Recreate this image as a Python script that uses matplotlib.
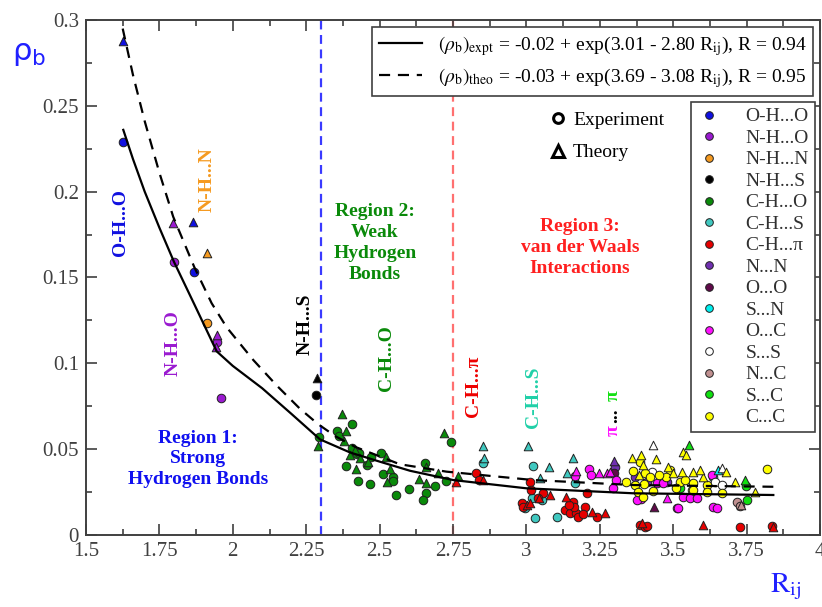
import numpy as np
import matplotlib
matplotlib.use("Agg")
import matplotlib.pyplot as plt
from matplotlib.lines import Line2D
from matplotlib.ticker import MultipleLocator, FuncFormatter

plt.rcParams['font.family'] = ['Liberation Serif', 'DejaVu Serif']
plt.rcParams['mathtext.fontset'] = 'stix'

# fitted curves (R_ij, rho_b)
fit_expt_x = [1.627, 1.66, 1.70, 1.75, 1.80, 1.87, 1.945, 2.0, 2.1, 2.2, 2.297, 2.399, 2.501, 2.604, 2.751, 3.0, 3.364, 3.841]
fit_expt_y = [0.236, 0.219, 0.200, 0.179, 0.159, 0.134, 0.107, 0.0985, 0.0855, 0.0705, 0.0557, 0.0481, 0.0427, 0.0374, 0.032, 0.0272, 0.0243, 0.0233]
fit_theo_x = [1.625, 1.66, 1.70, 1.75, 1.797, 1.869, 1.928, 1.979, 2.07, 2.15, 2.229, 2.291, 2.35, 2.416, 2.569, 2.728, 3.024, 3.364, 3.841]
fit_theo_y = [0.295, 0.268, 0.241, 0.211, 0.1854, 0.156, 0.135, 0.121, 0.1019, 0.087, 0.0735, 0.0645, 0.0575, 0.0514, 0.0412, 0.0369, 0.032, 0.0291, 0.0281]

# category names, colours and points: (R_ij, rho_b)
cat_names = ['O-H...O', 'N-H...O', 'N-H...N', 'N-H...S', 'C-H...O', 'C-H...S', 'C-H...\u03c0',
             'N...N', 'O...O', 'S...N', 'O...C', 'S...S', 'N...C', 'S...C', 'C...C']
cat_colors = ['#1010e0', '#9a1ad0', '#f59a20', '#000000', '#0a8a0a', '#40c8c0', '#e60000',
              '#7030b0', '#600a4a', '#00f0f0', '#ff10ff', '#ffffff', '#c09090', '#10e010', '#ffff00']

oho_expt = [(1.625, 0.229), (1.869, 0.153)]
oho_theo = [(1.625, 0.288), (1.863, 0.1825)]
nho_expt = [(1.80, 0.159), (1.947, 0.1126), (1.959, 0.0796)]
nho_theo = [(1.797, 0.1815), (1.945, 0.1165), (1.943, 0.1097)]
nhn_expt = [(1.913, 0.1237)]
nhn_theo = [(1.913, 0.1644)]
nhs_expt = [(2.283, 0.0815)]
nhs_theo = [(2.286, 0.0912)]
cho_expt = [(2.295, 0.057), (2.407, 0.0646), (2.354, 0.0606), (2.363, 0.0577), (2.405, 0.0505),
            (2.424, 0.0472), (2.384, 0.0404), (2.428, 0.0314), (2.469, 0.0295), (2.471, 0.0453),
            (2.456, 0.0408), (2.505, 0.048), (2.51, 0.0353), (2.544, 0.034), (2.547, 0.0314),
            (2.555, 0.0233), (2.601, 0.0266), (2.655, 0.0417), (2.658, 0.0243), (2.649, 0.0204),
            (2.689, 0.0285), (2.725, 0.0314), (2.742, 0.0543), (2.43, 0.048)]
cho_theo = [(2.291, 0.0518), (2.371, 0.0703), (2.386, 0.0606), (2.378, 0.0547), (2.416, 0.0495),
            (2.399, 0.0466), (2.433, 0.0447), (2.42, 0.0383), (2.461, 0.0427), (2.522, 0.0457),
            (2.535, 0.0383), (2.526, 0.031), (2.658, 0.0398), (2.635, 0.0326), (2.658, 0.0305),
            (2.698, 0.0363), (2.719, 0.0592), (2.768, 0.0344)]
chs_expt = [(2.851, 0.0417), (3.024, 0.0402), (3.166, 0.0305), (3.029, 0.0097), (3.103, 0.0107),
            (2.995, 0.0155), (3.052, 0.0204), (3.018, 0.0214)]
chs_theo = [(2.853, 0.0518), (2.857, 0.0447), (3.006, 0.0518), (3.078, 0.0398), (3.046, 0.033),
            (3.16, 0.0447), (3.137, 0.0363)]
chpi_expt = [(2.828, 0.0359), (2.84, 0.032), (3.012, 0.031), (3.016, 0.0262), (3.057, 0.0243),
             (2.984, 0.0184), (2.989, 0.0161), (3.04, 0.0214), (3.205, 0.0243), (3.16, 0.0194),
             (3.2, 0.0165), (3.131, 0.0146), (3.148, 0.013), (3.169, 0.0126), (3.177, 0.0107),
             (3.194, 0.0122), (3.239, 0.0107), (3.162, 0.0161), (3.146, 0.0175), (3.387, 0.0058),
             (3.404, 0.0049), (3.41, 0.0052), (3.727, 0.0045), (3.835, 0.0052)]
chpi_theo = [(2.760, 0.031), (2.853, 0.032), (3.08, 0.0233), (3.044, 0.0214), (3.003, 0.0175),
             (3.012, 0.0184), (3.135, 0.022), (3.222, 0.0136), (3.268, 0.0126), (3.6, 0.0058),
             (3.84, 0.0045), (3.395, 0.007)]
nn_expt = [(3.302, 0.0398), (3.41, 0.031), (3.478, 0.031), (3.37, 0.034)]
nn_theo = [(3.30, 0.043)]
oo_expt = [(3.30, 0.036)]
oo_theo = [(3.434, 0.0161)]
sn_expt = [(3.635, 0.0335)]
sn_theo = [(3.654, 0.0379)]
oc_expt = [(3.166, 0.0344), (3.214, 0.0383), (3.219, 0.035), (3.305, 0.032), (3.294, 0.0272),
           (3.39, 0.0208), (3.376, 0.0204), (3.444, 0.0301), (3.514, 0.0155), (3.466, 0.0301),
           (3.534, 0.0223), (3.557, 0.0214), (3.58, 0.0214), (3.631, 0.035), (3.637, 0.0165),
           (3.648, 0.0155), (3.517, 0.0155)]
oc_theo = [(3.248, 0.0363), (3.273, 0.0363), (3.285, 0.0369), (3.478, 0.0214), (3.17, 0.037)]
ss_expt = [(3.427, 0.0369), (3.642, 0.031), (3.665, 0.0291)]
ss_theo = [(3.43, 0.0524), (3.665, 0.0388)]
nc_expt = [(3.716, 0.0194), (3.727, 0.0169)]
nc_theo = [(3.73, 0.0175)]
sc_expt = [(3.523, 0.0272), (3.75, 0.0204), (3.748, 0.0285)]
sc_theo = [(3.555, 0.0524), (3.745, 0.032)]
cc_expt = [(3.387, 0.0427), (3.364, 0.0374), (3.338, 0.031), (3.37, 0.0291), (3.404, 0.0359),
           (3.421, 0.034), (3.381, 0.0252), (3.398, 0.0223), (3.432, 0.0258), (3.489, 0.0379),
           (3.475, 0.034), (3.523, 0.031), (3.509, 0.0272), (3.563, 0.0262), (3.568, 0.0301),
           (3.568, 0.0262), (3.614, 0.0291), (3.614, 0.0252), (3.665, 0.0243), (3.818, 0.0383),
           (3.40, 0.03), (3.45, 0.035), (3.54, 0.032)]
cc_theo = [(3.392, 0.0466), (3.398, 0.0408), (3.385, 0.035), (3.483, 0.0398), (3.534, 0.0485),
           (3.543, 0.0466), (3.529, 0.0369), (3.568, 0.0369), (3.602, 0.034), (3.68, 0.0369),
           (3.71, 0.031), (3.779, 0.0252), (3.36, 0.045), (3.44, 0.044), (3.50, 0.036), (3.59, 0.038)]

expt_sets = [oho_expt, nho_expt, nhn_expt, nhs_expt, cho_expt, chs_expt, chpi_expt,
             nn_expt, oo_expt, sn_expt, oc_expt, ss_expt, nc_expt, sc_expt, cc_expt]
theo_sets = [oho_theo, nho_theo, nhn_theo, nhs_theo, cho_theo, chs_theo, chpi_theo,
             nn_theo, oo_theo, sn_theo, oc_theo, ss_theo, nc_theo, sc_theo, cc_theo]

fig = plt.figure(figsize=(8.22, 6.07), dpi=100)
ax = fig.add_axes([86/822, 72/607, 734/822, 515/607])

ax.axvline(2.3, color='#3a3aff', lw=1.6, ls=(0, (4, 2.5)), zorder=1)
ax.axvline(2.75, color='#ff7070', lw=1.6, ls=(0, (4, 2.5)), zorder=1)

for pts, col in zip(expt_sets, cat_colors):
    a = np.array(pts)
    ax.scatter(a[:, 0], a[:, 1], s=38, marker='o', c=col, edgecolors='#202020', linewidths=0.7, zorder=3)
for pts, col in zip(theo_sets, cat_colors):
    a = np.array(pts)
    ax.scatter(a[:, 0], a[:, 1], s=38, marker='^', c=col, edgecolors='#202020', linewidths=0.7, zorder=3)

l1, = ax.plot(fit_expt_x, fit_expt_y, color='black', lw=1.6, zorder=4)
l2, = ax.plot(fit_theo_x, fit_theo_y, color='black', lw=1.6, ls=(0, (5, 3.5)), zorder=4)

ax.set_xlim(1.5, 4)
ax.set_ylim(0, 0.3)
ax.xaxis.set_major_locator(MultipleLocator(0.25))
ax.xaxis.set_minor_locator(MultipleLocator(0.125))
ax.yaxis.set_major_locator(MultipleLocator(0.05))
ax.yaxis.set_minor_locator(MultipleLocator(0.025))
fmt = FuncFormatter(lambda v, p: '%g' % round(v, 3))
ax.xaxis.set_major_formatter(fmt)
ax.yaxis.set_major_formatter(fmt)
ax.tick_params(which='both', direction='in', top=True, right=True, colors='#404040',
               labelsize=15, width=1.2)
ax.tick_params(which='major', length=8, pad=5)
ax.tick_params(which='minor', length=4)
for sp in ax.spines.values():
    sp.set_color('#404040')
    sp.set_linewidth(1.4)

# rotated bond-type labels
bold = dict(fontweight='bold', fontsize=14, rotation=90, ha='center', va='center')
ax.text(1.616, 0.182, 'O-H...O', color='#1010e0', **bold)
ax.text(1.912, 0.207, 'N-H...N', color='#f59a20', **bold)
ax.text(1.796, 0.112, 'N-H...O', color='#9a1ad0', **bold)
ax.text(2.246, 0.123, 'N-H...S', color='black', **bold)
ax.text(2.524, 0.103, 'C-H...O', color='#0a8a0a', **bold)
ax.text(2.819, 0.0864, 'C-H...\u03c0', color='#ee0000', **bold)
ax.text(3.024, 0.080, 'C-H...S', color='#20d0a8', **bold)
ax.text(3.295, 0.0606, '\u03c0', color='#ff10ff', **bold)
ax.text(3.295, 0.0693, '...', color='black', **bold)
ax.text(3.295, 0.081, '\u03c0', color='#10e010', **bold)

reg = dict(fontweight='bold', fontsize=14, ha='center', va='center', linespacing=1.3)
ax.text(1.881, 0.0443, 'Region 1:\nStrong\nHydrogen Bonds', color='#1010f0', **reg)
ax.text(2.484, 0.170, 'Region 2:\nWeak\nHydrogen\nBonds', color='#0a8a0a', **reg)
ax.text(3.183, 0.1677, 'Region 3:\nvan der Waals\nInteractions', color='#ff2020', **reg)

# legends
leg1 = ax.legend([l1, l2],
                 [r'$(\rho_{\mathrm{b}})_{\mathrm{expt}}$ = -0.02 + exp(3.01 - 2.80 R$_{\mathrm{ij}}$), R = 0.94',
                  r'$(\rho_{\mathrm{b}})_{\mathrm{theo}}$ = -0.03 + exp(3.69 - 3.08 R$_{\mathrm{ij}}$), R = 0.95'],
                 loc='upper right', bbox_to_anchor=(0.991, 0.986), borderaxespad=0, fontsize=14,
                 frameon=True, fancybox=False, framealpha=1, edgecolor='#404040', handlelength=2.2,
                 borderpad=0.35, labelspacing=0.4)
leg1.get_frame().set_linewidth(1.2)
ax.add_artist(leg1)

h_exp = Line2D([], [], ls='none', marker='o', ms=7, mfc='white', mec='black', mew=2.2)
h_the = Line2D([], [], ls='none', marker='^', ms=8, mfc='white', mec='black', mew=2.2)
leg2 = ax.legend([h_exp, h_the], ['Experiment', 'Theory'], loc='upper left',
                 bbox_to_anchor=(0.608, 0.856), fontsize=14, frameon=False,
                 handlelength=0.8, handletextpad=0.4, labelspacing=0.75)
ax.add_artist(leg2)

cat_handles = [Line2D([], [], ls='none', marker='o', ms=5.5, mfc=c, mec='#202020', mew=0.7)
               for c in cat_colors]
leg3 = ax.legend(cat_handles, cat_names, loc='upper right', bbox_to_anchor=(0.993, 0.841),
                 borderaxespad=0, fontsize=14, frameon=True, fancybox=False, framealpha=1,
                 edgecolor='#404040', handlelength=1.2, handletextpad=1.3, labelspacing=0.2,
                 borderpad=0.3)
leg3.get_frame().set_linewidth(1.2)
for t in leg3.get_texts():
    t.set_color('#303030')

fig.text(12/822, 1 - 60/607, '\u03c1$_{\\mathrm{b}}$', color='#2020ff', fontsize=22,
         family='DejaVu Sans', math_fontfamily='dejavusans', ha='left', va='baseline')
fig.text(770/822, 1 - 592/607, r'$\mathrm{R}_{\mathrm{ij}}$', color='#2020ff', fontsize=21,
         ha='left', va='baseline')

fig.savefig('out.png', dpi=100)
